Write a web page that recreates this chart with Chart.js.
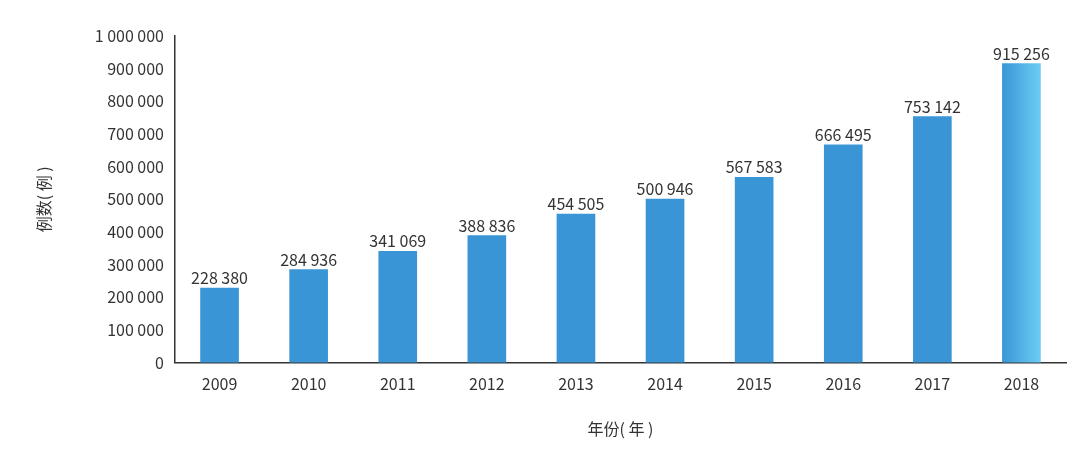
<!DOCTYPE html><html><head><meta charset="utf-8">
<script src="https://cdn.jsdelivr.net/npm/chart.js@4"></script>
<style>html,body{margin:0;background:#fff}#w{width:1080px;height:449px}</style></head><body><div id="w"><canvas id="c"></canvas></div>
<script>
const years=['2009','2010','2011','2012','2013','2014','2015','2016','2017','2018'];
const cases=[228380,284936,341069,388836,454505,500946,567583,666495,753142,915256];
const fmt=v=>String(v).replace(/\B(?=(\d{3})+(?!\d))/g,' ');
const F='"Noto Sans CJK SC","Noto Sans",sans-serif';
const labelPlugin={id:'lbl',afterDatasetsDraw(ch){const c=ch.ctx;const m=ch.getDatasetMeta(0);c.save();c.font='16px '+F;c.fillStyle='#333';c.textAlign='center';c.textBaseline='bottom';m.data.forEach((b,i)=>c.fillText(fmt(cases[i]),b.x,b.y-2));c.restore();}};
const gradPlugin={id:'grad',beforeDatasetsDraw(ch){const m=ch.getDatasetMeta(0);m.data.forEach(b=>{if(!Number.isFinite(b.x))return;const g=ch.ctx.createLinearGradient(b.x-19,0,b.x+19,0);g.addColorStop(0,'#3a95d6');g.addColorStop(1,'#6ccdf3');b.options.backgroundColor=g;});}};
new Chart(document.getElementById('c'),{type:'bar',data:{labels:years,datasets:[{data:cases,barThickness:38,backgroundColor:'#4fb0e6'}]},
options:{responsive:true,maintainAspectRatio:false,animation:false,layout:{padding:{top:36,right:14,left:30,bottom:6}},
plugins:{legend:{display:false},tooltip:{enabled:false}},
scales:{x:{grid:{display:false,drawTicks:false},border:{color:'#333',width:1.5},ticks:{color:'#333',font:{size:16,family:F},padding:12},title:{display:true,text:'年份( 年 )',color:'#333',font:{size:16,family:F},padding:{top:14}}},
y:{min:0,max:1000000,grid:{display:false,drawTicks:true,tickLength:5,color:'#333'},border:{color:'#333',width:1.5},ticks:{stepSize:100000,color:'#333',font:{size:16,family:F},callback:v=>fmt(v),padding:6},title:{display:true,text:'例数( 例 )',color:'#333',font:{size:16,family:F},padding:{bottom:28}},afterFit(s){s.width=145;}}}},
plugins:[gradPlugin,labelPlugin]});
</script></body></html>
